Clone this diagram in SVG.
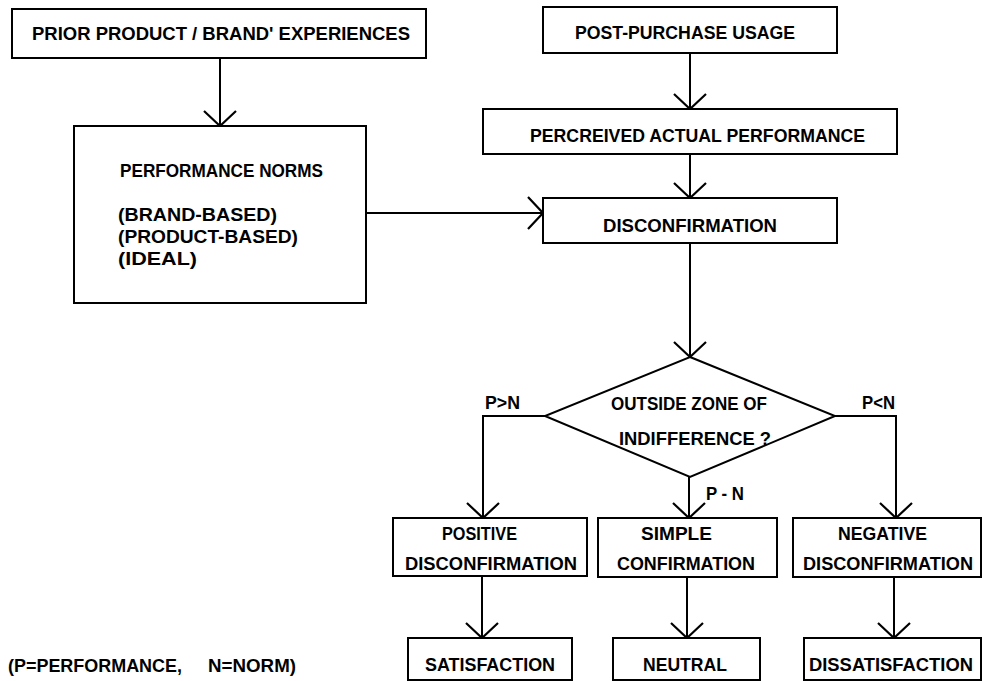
<svg xmlns="http://www.w3.org/2000/svg" width="982" height="681" viewBox="0 0 982 681">
<defs>
<style>
.b{fill:#fff;stroke:#000;stroke-width:2}
.t{font-family:"Liberation Sans",Arial,sans-serif;font-weight:bold;font-size:18px;fill:#000}
.c{fill:none;stroke:#000;stroke-width:2}
</style>
<marker id="v" markerUnits="userSpaceOnUse" markerWidth="40" markerHeight="40" viewBox="-20 -20 40 40" refX="0" refY="0" orient="auto">
<path d="M-15,-16 L0,0 L-15,16" fill="none" stroke="#000" stroke-width="2.2"/>
</marker>
</defs>
<rect width="982" height="681" fill="#fff"/>
<g id="connectors">
<path class="c" d="M220,58 V126" marker-end="url(#v)"/>
<path class="c" d="M690,53 V109" marker-end="url(#v)"/>
<path class="c" d="M690,154 V198" marker-end="url(#v)"/>
<path class="c" d="M366,213 H543" marker-end="url(#v)"/>
<path class="c" d="M690,243 V357" marker-end="url(#v)"/>
<path class="c" d="M545,416 H483 V518" marker-end="url(#v)"/>
<path class="c" d="M689,477 V518" marker-end="url(#v)"/>
<path class="c" d="M835,416 H896 V518" marker-end="url(#v)"/>
<path class="c" d="M482,576 V638" marker-end="url(#v)"/>
<path class="c" d="M687,577 V638" marker-end="url(#v)"/>
<path class="c" d="M894,577 V638" marker-end="url(#v)"/>
</g>
<g id="prior">
<rect class="b" x="12" y="9" width="414" height="49"/>
<text class="t" x="32" y="40" textLength="378" lengthAdjust="spacingAndGlyphs">PRIOR PRODUCT / BRAND' EXPERIENCES</text>
</g>
<g id="norms">
<rect class="b" x="74" y="126" width="292" height="177"/>
<text class="t" x="120" y="177" textLength="203" lengthAdjust="spacingAndGlyphs">PERFORMANCE NORMS</text>
<text class="t" x="118" y="221" textLength="159" lengthAdjust="spacingAndGlyphs">(BRAND-BASED)</text>
<text class="t" x="118" y="243" textLength="180" lengthAdjust="spacingAndGlyphs">(PRODUCT-BASED)</text>
<text class="t" x="118" y="265" textLength="79" lengthAdjust="spacingAndGlyphs">(IDEAL)</text>
</g>
<g id="usage">
<rect class="b" x="543" y="7" width="294" height="46"/>
<text class="t" x="575" y="39" textLength="220" lengthAdjust="spacingAndGlyphs">POST-PURCHASE USAGE</text>
</g>
<g id="perceived">
<rect class="b" x="483" y="109" width="414" height="45"/>
<text class="t" x="530" y="142" textLength="335" lengthAdjust="spacingAndGlyphs">PERCREIVED ACTUAL PERFORMANCE</text>
</g>
<g id="disconfirmation">
<rect class="b" x="543" y="198" width="294" height="45"/>
<text class="t" x="603" y="232" textLength="174" lengthAdjust="spacingAndGlyphs">DISCONFIRMATION</text>
</g>
<g id="decision">
<polygon class="b" points="690,357 835,416 690,477 545,416"/>
<text class="t" x="611" y="410" textLength="156" lengthAdjust="spacingAndGlyphs">OUTSIDE ZONE OF</text>
<text class="t" x="619" y="445" textLength="152" lengthAdjust="spacingAndGlyphs">INDIFFERENCE  ?</text>
</g>
<g id="labels">
<text class="t" x="485" y="409" textLength="35" lengthAdjust="spacingAndGlyphs">P&gt;N</text>
<text class="t" x="862" y="409" textLength="33" lengthAdjust="spacingAndGlyphs">P&lt;N</text>
<text class="t" x="706" y="500" textLength="38" lengthAdjust="spacingAndGlyphs">P - N</text>
</g>
<g id="positive">
<rect class="b" x="393" y="518" width="194" height="58"/>
<text class="t" x="442" y="540" textLength="75" lengthAdjust="spacingAndGlyphs">POSITIVE</text>
<text class="t" x="405" y="570" textLength="172" lengthAdjust="spacingAndGlyphs">DISCONFIRMATION</text>
</g>
<g id="simple">
<rect class="b" x="598" y="518" width="179" height="59"/>
<text class="t" x="641" y="540" textLength="71" lengthAdjust="spacingAndGlyphs">SIMPLE</text>
<text class="t" x="617" y="570" textLength="138" lengthAdjust="spacingAndGlyphs">CONFIRMATION</text>
</g>
<g id="negative">
<rect class="b" x="793" y="518" width="188" height="59"/>
<text class="t" x="838" y="540" textLength="89" lengthAdjust="spacingAndGlyphs">NEGATIVE</text>
<text class="t" x="803" y="570" textLength="170" lengthAdjust="spacingAndGlyphs">DISCONFIRMATION</text>
</g>
<g id="satisfaction">
<rect class="b" x="408" y="638" width="164" height="42"/>
<text class="t" x="425" y="671" textLength="130" lengthAdjust="spacingAndGlyphs">SATISFACTION</text>
</g>
<g id="neutral">
<rect class="b" x="613" y="638" width="147" height="42"/>
<text class="t" x="643" y="671" textLength="84" lengthAdjust="spacingAndGlyphs">NEUTRAL</text>
</g>
<g id="dissatisfaction">
<rect class="b" x="804" y="638" width="177" height="42"/>
<text class="t" x="809" y="671" textLength="164" lengthAdjust="spacingAndGlyphs">DISSATISFACTION</text>
</g>
<g id="legend">
<text class="t" x="8" y="672" textLength="174" lengthAdjust="spacingAndGlyphs">(P=PERFORMANCE,</text>
<text class="t" x="208" y="672" textLength="88" lengthAdjust="spacingAndGlyphs">N=NORM)</text>
</g>
</svg>
